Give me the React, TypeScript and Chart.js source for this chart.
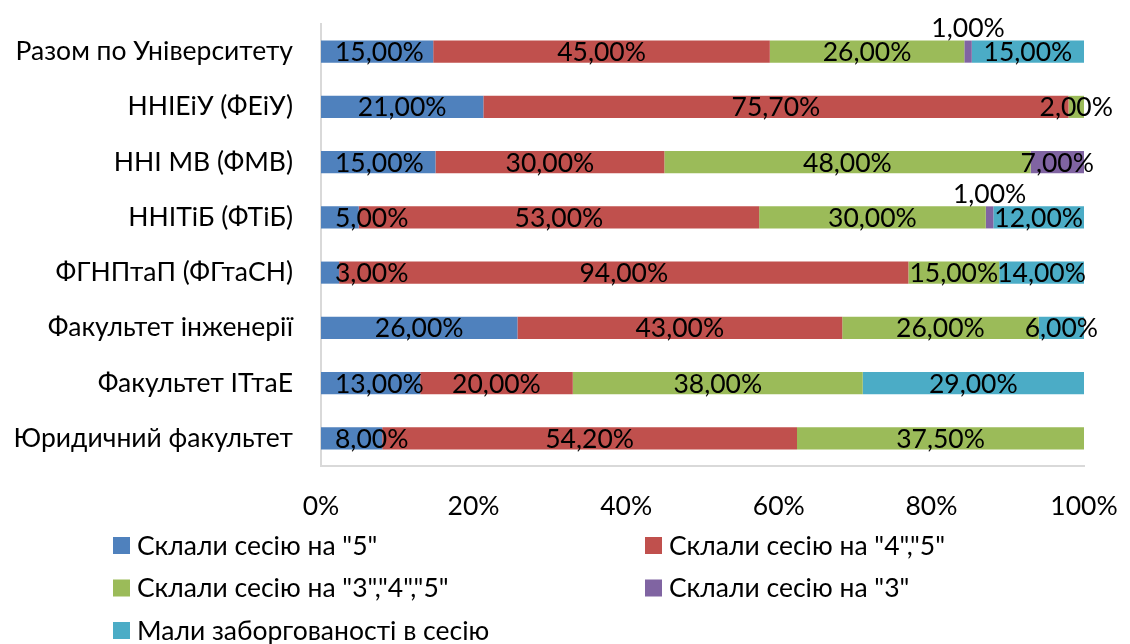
import React, { useEffect, useRef } from "react";
import { Chart, registerables } from "chart.js";

Chart.register(...registerables);

const categories = [
  "Разом по Університету",
  "ННІЕіУ (ФЕіУ)",
  "ННІ МВ (ФМВ)",
  "ННІТіБ (ФТіБ)",
  "ФГНПтаП (ФГтаСН)",
  "Факультет інженерії",
  "Факультет ІТтаЕ",
  "Юридичний факультет",
];

const seriesNames = [
  'Склали сесію на "5"',
  'Склали сесію на "4","5"',
  'Склали сесію на "3","4","5"',
  'Склали сесію на "3"',
  "Мали заборгованості в сесію",
];

const grade5: (number | null)[] = [15, 21, 15, 5, 3, 26, 13, 8];
const grade45: (number | null)[] = [45, 75.7, 30, 53, 94, 43, 20, 54.2];
const grade345: (number | null)[] = [26, 2, 48, 30, 15, 26, 38, 37.5];
const grade3: (number | null)[] = [1, null, 7, 1, null, null, null, null];
const debts: (number | null)[] = [15, null, null, 12, 14, 6, 29, null];

const seriesColors = ["#4F81BD", "#C0504D", "#9BBB59", "#8064A2", "#4BACC6"];
const xTickValues = [0, 20, 40, 60, 80, 100];

const FONT = "Lato, 'Open Sans', sans-serif";
const FONT_SIZE = 26.5;

const fmt = (v: number) => v.toFixed(2).replace(".", ",") + "%";

export default function App() {
  const ref = useRef<HTMLCanvasElement | null>(null);

  useEffect(() => {
    if (!ref.current) return;
    const raw = [grade5, grade45, grade345, grade3, debts];
    const totals = categories.map((_, i) =>
      raw.reduce((s, arr) => s + (arr[i] ?? 0), 0)
    );
    const datasets = raw.map((arr, k) => ({
      label: seriesNames[k],
      data: arr.map((v, i) => (v == null ? null : (v / totals[i]) * 100)),
      rawValues: arr,
      backgroundColor: seriesColors[k],
      borderWidth: 0,
      categoryPercentage: 1,
      barPercentage: 0.4,
    }));

    const labelPlugin = {
      id: "segLabels",
      afterDatasetsDraw(chart: any) {
        const ctx = chart.ctx;
        const area = chart.chartArea;
        ctx.save();
        ctx.font = `${FONT_SIZE}px ${FONT}`;
        ctx.fillStyle = "#000";
        ctx.textAlign = "center";
        ctx.textBaseline = "middle";
        chart.data.datasets.forEach((ds: any, di: number) => {
          const meta = chart.getDatasetMeta(di);
          meta.data.forEach((el: any, i: number) => {
            const v = ds.rawValues[i];
            if (v == null) return;
            const p = el.getProps(["x", "y", "base", "height"], true);
            const segW = Math.abs(p.x - p.base);
            const txt = fmt(v);
            const w = ctx.measureText(txt).width;
            let cx = (p.x + p.base) / 2;
            let cy = p.y + 1;
            if (segW < 10) {
              cy = p.y - 23;
            }
            if (cx - w / 2 < area.left + 14) cx = area.left + 14 + w / 2;
            ctx.fillText(txt, cx, cy);
          });
        });
        ctx.restore();
      },
    };

    const legendPlugin = {
      id: "gridLegend",
      afterDraw(chart: any) {
        const ctx = chart.ctx;
        const area = chart.chartArea;
        ctx.save();
        ctx.font = `${FONT_SIZE}px ${FONT}`;
        ctx.textAlign = "left";
        ctx.textBaseline = "middle";
        const colX = [113, 645];
        const rowH = 42.5;
        const firstY = area.bottom + 79;
        chart.data.datasets.forEach((ds: any, i: number) => {
          const col = i % 2;
          const row = Math.floor(i / 2);
          const x = colX[col];
          const y = firstY + row * rowH;
          ctx.fillStyle = ds.backgroundColor;
          ctx.fillRect(x, y - 8, 17, 17);
          ctx.fillStyle = "#000";
          ctx.fillText(ds.label, x + 24, y + 1);
        });
        ctx.restore();
      },
    };

    const chart = new Chart(ref.current, {
      type: "bar",
      data: { labels: categories, datasets: datasets as any },
      options: {
        indexAxis: "y",
        animation: false,
        responsive: true,
        maintainAspectRatio: false,
        layout: { padding: { top: 24, right: 46, bottom: 128, left: 0 } },
        plugins: {
          legend: { display: false },
          tooltip: { enabled: false },
        },
        scales: {
          x: {
            stacked: true,
            min: 0,
            max: 100,
            afterBuildTicks: (scale: any) => {
              scale.ticks = xTickValues.map((v) => ({ value: v }));
            },
            afterFit: (scale: any) => {
              scale.height = 50;
              scale.paddingLeft = 0;
              scale.paddingRight = 0;
            },
            grid: { display: false, drawTicks: false },
            border: { display: true, color: "#D9D9D9", width: 2 },
            ticks: {
              color: "#000",
              padding: 25,
              font: { family: FONT, size: FONT_SIZE },
              callback: (v: any) => v + "%",
              maxRotation: 0,
            },
          },
          y: {
            stacked: true,
            afterFit: (scale: any) => {
              scale.width = 321;
              scale.paddingTop = 0;
              scale.paddingBottom = 0;
            },
            grid: { display: false, drawTicks: false },
            border: { display: true, color: "#D9D9D9", width: 2 },
            ticks: {
              color: "#000",
              padding: 28,
              font: { family: FONT, size: FONT_SIZE },
            },
          },
        },
      },
      plugins: [labelPlugin, legendPlugin],
    });
    return () => chart.destroy();
  }, []);

  return (
    <div style={{ position: "fixed", left: 0, top: 0, width: 1130, height: 644, background: "#fff" }}>
      <canvas ref={ref} />
    </div>
  );
}
